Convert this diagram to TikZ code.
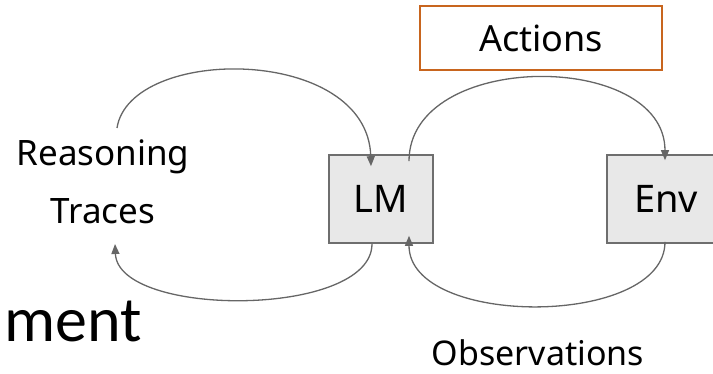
\documentclass[tikz,border=0pt]{standalone}
\usepackage{fontspec}
\setmainfont{Noto Sans}
\newfontfamily\calfont{Carlito}
\usetikzlibrary{arrows.meta,calc}
\definecolor{boxfill}{HTML}{E8E8E8}
\definecolor{boxline}{HTML}{6E6E6E}
\definecolor{arcline}{HTML}{666666}
\definecolor{actline}{HTML}{C8651E}
\begin{document}
\begin{tikzpicture}[x=1pt,y=-1pt,
  blockbox/.style={draw=boxline,fill=boxfill,line width=1.6pt,minimum width=104pt,minimum height=88pt,inner sep=0pt,
    font=\fontsize{38}{40}\selectfont},
  lbl/.style={font=\fontsize{35}{37}\selectfont,inner sep=0pt},
  arc/.style={draw=arcline,line width=1.3pt,-{Triangle[length=10pt,width=8pt]}}]
\useasboundingbox (0,0) rectangle (713,374);
\clip (0,0) rectangle (713,374);
\node[blockbox] (LM) at (381,199) {LM};
\node[blockbox,minimum width=118pt] (Env) at (666,199) {Env};
\node[draw=actline,line width=1.8pt,minimum width=242pt,minimum height=64pt,inner sep=0pt,
  font=\fontsize{36}{38}\selectfont] (Act) at (541,38) {Actions};
\node[lbl] (R1) at (103,157) {Reasoning};
\node[lbl] (R2) at (103,211) {Traces};
\node[lbl,anchor=base,font=\fontsize{34}{36}\selectfont] (Obs) at (538,366) {Observations};
\node[anchor=base west,inner sep=0pt,font=\calfont\fontsize{64}{66}\selectfont] (ment) at (4,342) {ment};
% connectors
\coordinate (rs) at (117,128);
\coordinate (re) at (115,244);
\draw[arc] (rs) .. controls (130,45) and (368,45) .. ([xshift=-10pt,yshift=-12pt]LM.north);
\draw[arc] ([xshift=-9pt]LM.south) .. controls (372,318) and (118,318) .. (re);
\draw[arc] ([xshift=28pt,yshift=-7pt]LM.north) .. controls (409,50) and (665,50) .. ([xshift=-1pt,yshift=-6pt]Env.north);
\draw[arc] ([xshift=-1pt,yshift=2pt]Env.south) .. controls (665,328) and (409,328) .. ([xshift=28pt,yshift=8pt]LM.south);
\end{tikzpicture}
\end{document}
